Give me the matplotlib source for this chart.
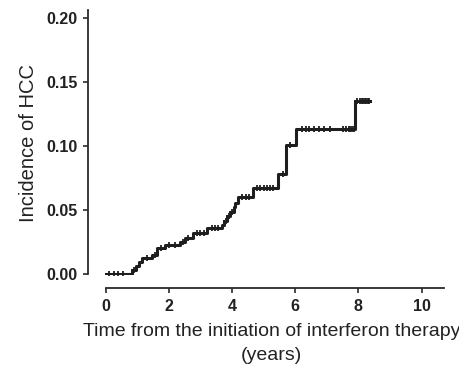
import matplotlib
matplotlib.use("Agg")
import matplotlib.pyplot as plt

plt.rcParams["font.family"] = ["Liberation Sans", "DejaVu Sans"]

# step function: event times (years) and cumulative incidence after each step
step_t = [0.0, 0.82, 0.95, 1.05, 1.14, 1.46, 1.61, 1.88, 2.35, 2.5, 2.77, 3.2,
          3.67, 3.75, 3.85, 3.95, 4.05, 4.1, 4.19, 4.67, 5.46, 5.7, 6.04, 7.89]
step_y = [0.0, 0.003, 0.006, 0.009, 0.0125, 0.0145, 0.020, 0.0227, 0.025, 0.028,
          0.032, 0.036, 0.038, 0.041, 0.045, 0.048, 0.052, 0.055, 0.060, 0.0674,
          0.078, 0.101, 0.113, 0.1346]
end_t = 8.38

# censored observations (years)
censor_t = [0.1, 0.25, 0.4, 0.55, 0.9, 1.3, 1.55, 1.75, 2.0, 2.2, 2.45, 2.6, 2.9,
            3.0, 3.1, 3.35, 3.45, 3.55, 3.8, 3.9, 4.0, 4.3, 4.45, 4.55, 4.8, 4.9,
            5.0, 5.1, 5.2, 5.3, 5.6, 5.85, 6.2, 6.35, 6.45, 6.6, 6.75, 6.9, 7.1,
            7.5, 7.6, 7.7, 7.75, 7.8, 7.85, 7.95, 8.05, 8.1, 8.15, 8.2, 8.25, 8.3, 8.35]


def y_at(t):
    y = 0.0
    for st, sy in zip(step_t, step_y):
        if t >= st:
            y = sy
    return y


fig = plt.figure(figsize=(4.6, 3.71), dpi=100)
ax = fig.add_axes([88 / 460, 1 - 275 / 371, 356 / 460, 265 / 371])

xs = step_t + [end_t]
ys = step_y + [step_y[-1]]
ax.step(xs, ys, where="post", color="#1e1e1e", lw=2.2)
ax.plot(censor_t, [y_at(t) for t in censor_t], "+", color="#1e1e1e",
        ms=5, mew=1.3)

ax.set_xlim(-0.56, 10.71)
ax.set_ylim(-0.0008, 0.206)

ax.spines["top"].set_visible(False)
ax.spines["right"].set_visible(False)
ax.spines["bottom"].set_position(("outward", 9.5))
ax.spines["bottom"].set_bounds(0, 10.71)
ax.spines["left"].set_bounds(0, 0.206)
for s in ("left", "bottom"):
    ax.spines[s].set_linewidth(1.3)
    ax.spines[s].set_color("#2a2a2a")

ax.set_xticks([0, 2, 4, 6, 8, 10])
ax.set_yticks([0.0, 0.05, 0.10, 0.15, 0.20])
ax.set_yticklabels(["0.00", "0.05", "0.10", "0.15", "0.20"])
ax.tick_params(length=3.5, width=1.2, color="#2a2a2a", labelsize=11.5, pad=4)
for lab in ax.get_xticklabels() + ax.get_yticklabels():
    lab.set_fontweight("bold")
    lab.set_color("#222222")

ax.set_ylabel("Incidence of HCC", fontsize=14.5, color="#222222", labelpad=6)
ax.set_xlabel("Time from the initiation of interferon therapy\n(years)",
              fontsize=14, color="#222222", linespacing=1.6)
ax.xaxis.set_label_coords(0.515, -0.18)

fig.savefig("out.png", dpi=100)
